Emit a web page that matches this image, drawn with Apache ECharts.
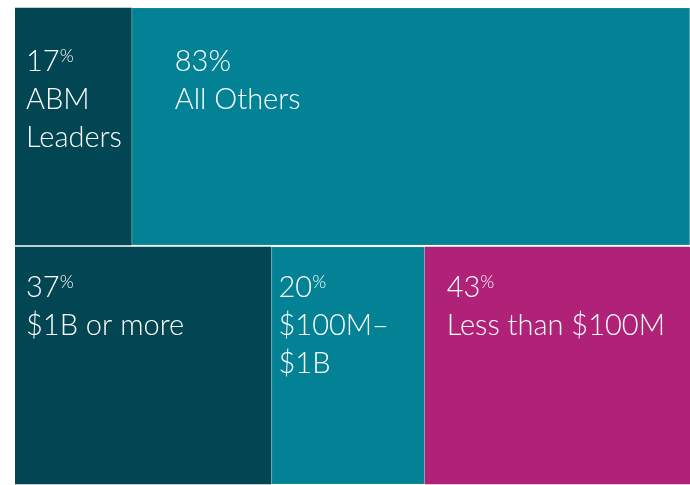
<!DOCTYPE html>
<html>
<head>
<meta charset="utf-8">
<script src="https://cdn.jsdelivr.net/npm/echarts@6/dist/echarts.min.js"></script>
<style>
  html, body { margin: 0; padding: 0; background: #fff; }
  #chart { width: 690px; height: 485px; }
</style>
</head>
<body>
<div id="chart"></div>
<script>
// two rows: revenue share of ABM leaders, then company size
var rows = ["leaders", "size"];
// drawn segment lengths (share of row width, as laid out in the picture)
var darkShare = [17.3, 38.0];
var tealShare = [82.7, 22.7];
var pinkShare = [null, 39.3];
// printed percentages and captions
var darkPct = ["17", "37"];
var tealPct = ["83", "20"];
var pinkPct = [null, "43"];
var darkText = ["ABM\nLeaders", "$1B or more"];
var tealText = ["All Others", "$100M–\n$1B"];
var pinkText = [null, "Less than $100M"];

var font = "Lato";
var rich = {
  num: { fontSize: 29, lineHeight: 38, color: "#fff", fontFamily: font, fontWeight: 300 },
  sup: { fontSize: 18, lineHeight: 38, color: "#fff", fontFamily: font, fontWeight: 300, verticalAlign: "top", padding: [4, 0, 0, 0] },
  txt: { fontSize: 29, lineHeight: 38, color: "#fff", fontFamily: font, fontWeight: 300 }
};

function makeLabel(pct, text, smallSign) {
  var sign = smallSign ? "{sup|%}" : "{num|%}";
  var lines = text.split("\n").map(function (t) { return "{txt|" + t + "}"; });
  return "{num|" + pct + "}" + sign + "\n" + lines.join("\n");
}

// label anchor inside each segment [row0, row1]
var darkPos = [[11, 35], [11, 22]];
var tealPos = [[43, 35], [7, 22]];
var pinkPos = [null, [22, 22]];

function buildData(shares, pcts, texts, pos, smallSign) {
  return shares.map(function (v, i) {
    if (v == null) return null;
    return {
      value: v,
      label: {
        show: true,
        position: pos[i],
        formatter: makeLabel(pcts[i], texts[i], smallSign[i]),
        rich: rich
      }
    };
  });
}

var chart = echarts.init(document.getElementById("chart"));
chart.setOption({
  animation: false,
  grid: { left: 15, right: 0, top: 7, bottom: 0 },
  xAxis: { type: "value", min: 0, max: 100, show: false },
  yAxis: { type: "category", data: rows, inverse: true, show: false },
  series: [
    {
      type: "bar", stack: "row", barCategoryGap: "0.6%",
      itemStyle: { color: "#014652" },
      data: buildData(darkShare, darkPct, darkText, darkPos, [true, true])
    },
    {
      type: "bar", stack: "row",
      itemStyle: { color: "#038295", borderColor: "rgba(255,255,255,0.25)", borderWidth: 0.5 },
      data: buildData(tealShare, tealPct, tealText, tealPos, [false, true])
    },
    {
      type: "bar", stack: "row",
      itemStyle: { color: "#b02178" },
      data: buildData(pinkShare, pinkPct, pinkText, pinkPos, [false, true])
    }
  ]
});
</script>
</body>
</html>
